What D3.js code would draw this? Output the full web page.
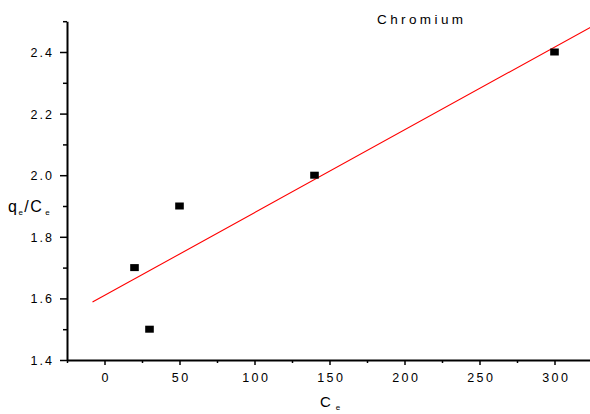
<!DOCTYPE html>
<html>
<head>
<meta charset="utf-8">
<script src="https://cdn.jsdelivr.net/npm/d3@7"></script>
<style>
  body { margin: 0; background: #fff; }
  text { font-family: "Liberation Sans", Arial, sans-serif; fill: #000; }
</style>
</head>
<body>
<script>
// Data
const ceValues = [20, 30, 50, 140, 300];
const qeCeValues = [1.7, 1.5, 1.9, 2.0, 2.4];
const fitCe = [-8, 325];
const fitQeCe = [1.588, 2.483];
const xTickValues = [0, 50, 100, 150, 200, 250, 300];
const xMinorValues = [-25, 25, 75, 125, 175, 225, 275, 325];
const yTickValues = [1.4, 1.6, 1.8, 2.0, 2.2, 2.4];
const yMinorValues = [1.5, 1.7, 1.9, 2.1, 2.3, 2.5];

// Main
function main() {
    const svgwidth = 590;
    const svgheight = 414;

    let svg = d3.select("body").append("svg")
        .attr("width", svgwidth)
        .attr("height", svgheight)

    let xScale = d3.scaleLinear()
        .domain([-25, 325])
        .range([67, 592])
    let yScale = d3.scaleLinear()
        .domain([1.4, 2.5])
        .range([360, 21.2])

    // fit line
    let fit = fitCe.map((d, i) => [d, fitQeCe[i]])
    svg.append("path")
        .datum(fit)
        .attr("d", d3.line().x(d => xScale(d[0])).y(d => yScale(d[1])))
        .attr("fill", "none")
        .attr("stroke", "#ff0000")
        .attr("stroke-width", 1.1)

    // x axis
    let xAxis = svg.append("g")
        .attr("transform", `translate(0, 360)`)
        .call(d3.axisBottom(xScale).tickValues(xTickValues).tickSize(5).tickSizeOuter(0).tickFormat(d3.format("d")))
    xAxis.select(".domain").attr("stroke-width", 2)
    xAxis.selectAll(".tick line").attr("stroke-width", 1.5)
    xAxis.selectAll(".tick text")
        .attr("y", 22).attr("dy", 0).attr("dx", 1.2)
        .style("font-size", "12.5px").style("letter-spacing", "2.4px")
    svg.append("g")
        .attr("transform", `translate(0, 360)`)
        .call(d3.axisBottom(xScale).tickValues(xMinorValues).tickSize(3).tickSizeOuter(0).tickFormat(""))
        .call(g => g.select(".domain").remove())
        .selectAll(".tick line").attr("stroke-width", 1.5)

    // y axis
    let yAxis = svg.append("g")
        .attr("transform", `translate(67, 0)`)
        .call(d3.axisLeft(yScale).tickValues(yTickValues).tickSize(7).tickSizeOuter(0).tickFormat(d3.format(".1f")))
    yAxis.select(".domain").attr("stroke-width", 2)
    yAxis.selectAll(".tick line").attr("stroke-width", 1.5)
    yAxis.selectAll(".tick text")
        .attr("x", -13).attr("dy", "0.36em")
        .style("font-size", "12.5px").style("letter-spacing", "2px")
    svg.append("g")
        .attr("transform", `translate(67, 0)`)
        .call(d3.axisLeft(yScale).tickValues(yMinorValues).tickSize(4).tickSizeOuter(0).tickFormat(""))
        .call(g => g.select(".domain").remove())
        .selectAll(".tick line").attr("stroke-width", 1.5)

    // points
    svg.selectAll(".scatterpoint")
        .data(ceValues).enter()
            .append("rect")
        .attr("class", "scatterpoint")
        .attr("x", d => xScale(d) - 4.3)
        .attr("y", (d, i) => yScale(qeCeValues[i]) - 3.5)
        .attr("width", 8.6)
        .attr("height", 7)
        .attr("fill", "#000")

    // title
    svg.append("text")
        .attr("x", 377)
        .attr("y", 24)
        .style("font-size", "13.5px")
        .style("letter-spacing", "3.4px")
        .text("Chromium")

    // y label
    let ylab = svg.append("text")
        .attr("x", 8)
        .attr("y", 212)
        .style("font-size", "16px")
        .style("letter-spacing", "1.5px")
    ylab.append("tspan").text("q")
    ylab.append("tspan").attr("dy", 3).style("font-size", "8px").text("e")
    ylab.append("tspan").attr("dy", -3).text("/C")
    ylab.append("tspan").attr("dx", 2).attr("dy", 3).style("font-size", "8px").text("e")

    // x label
    let xlab = svg.append("text")
        .attr("x", 320)
        .attr("y", 407)
        .style("font-size", "15px")
    xlab.append("tspan").text("C")
    xlab.append("tspan").attr("dx", 5).attr("dy", 3).style("font-size", "8px").text("e")
}

// Init Call
main()
</script>
</body>
</html>
